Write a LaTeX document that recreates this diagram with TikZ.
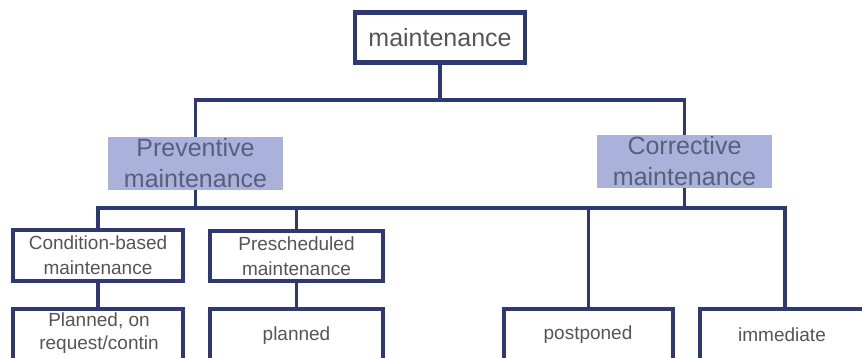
\documentclass[tikz,border=0pt]{standalone}
\usepackage{fontspec}
\setmainfont{Liberation Sans}
\definecolor{navy}{HTML}{2E3872}
\definecolor{lav}{HTML}{AAB2DC}
\definecolor{txtgray}{HTML}{555555}
\definecolor{txtblue}{HTML}{56607A}
\tikzset{
  conn/.style={draw=navy, line width=3.8pt, line join=miter},
  framebox/.style={draw=navy, fill=white, line width=4.5pt, inner sep=0pt, align=center, text=txtgray},
  catbox/.style={fill=lav, inner sep=0pt, align=center, text=txtblue,
    font=\fontsize{25}{31}\selectfont},
  small/.style={font=\fontsize{19}{25}\selectfont},
  plain/.style={inner sep=0pt, align=center, text=txtgray, font=\fontsize{19}{23}\selectfont}
}
\begin{document}
\begin{tikzpicture}[x=1pt,y=-1pt]
  \useasboundingbox[fill=white] (0,0) rectangle (862,358);
  \begin{scope}
  \clip (0,0) rectangle (862,358);
  % bus lines
  \coordinate (busA) at (440,100);
  \coordinate (busB) at (440,208);

  % root
  \node[framebox, minimum width=170pt, minimum height=50pt,
        font=\fontsize{25}{30}\selectfont] (root) at (440,37.5) {\raisebox{-2pt}{maintenance}};

  % two categories
  \node[catbox, minimum width=175pt, minimum height=53pt] (prev) at (195.5,163.5)
    {Preventive\\maintenance};
  \node[catbox, minimum width=175pt, minimum height=53pt] (corr) at (684.5,161.5)
    {Corrective\\maintenance};

  % second level
  \node[framebox, small, minimum width=170pt, minimum height=51pt] (cond) at (98,255.5)
    {Condition-based\\maintenance};
  \node[framebox, small, minimum width=173pt, minimum height=50pt] (presch) at (296.5,256)
    {Prescheduled\\maintenance};

  % bottom row (boxes run past the lower edge)
  \node[framebox, minimum width=170pt, minimum height=70pt] (leafA) at (98,344) {};
  \node[framebox, minimum width=173pt, minimum height=70pt] (leafB) at (296.5,344) {};
  \node[framebox, minimum width=169pt, minimum height=70pt] (leafC) at (588.5,344) {};
  \node[framebox, minimum width=170pt, minimum height=70pt] (leafD) at (785,344) {};

  \node[plain] (tA) at (99,333) {Planned, on\\request/contin};
  \node[plain] (tB) at (296.5,336) {planned};
  \node[plain] (tC) at (588,335) {postponed};
  \node[plain] (tD) at (782,335) {immediate};

  % connectors
  \draw[conn] (root.south) -- (busA);
  \draw[conn] (prev.north) |- (busA) -| (corr.north);
  \draw[conn] (prev.south) -- (prev.south |- busB);
  \draw[conn] (corr.south) -- (corr.south |- busB);
  \draw[conn] (cond.north) -- (cond.north |- busB) -- (leafD.north |- busB) -- (leafD.north);
  \draw[conn] (presch.north) -- (presch.north |- busB);
  \draw[conn] (leafC.north) -- (leafC.north |- busB);
  \draw[conn] (cond.south) -- (leafA.north);
  \draw[conn] (presch.south) -- (leafB.north);
  \end{scope}
\end{tikzpicture}
\end{document}
